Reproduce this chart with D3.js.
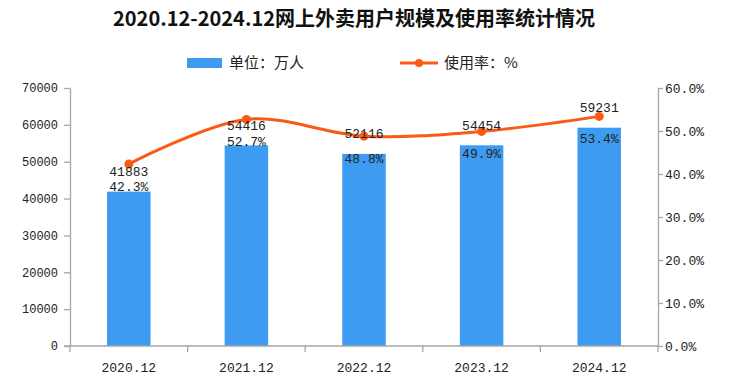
<!DOCTYPE html>
<html><head><meta charset="utf-8">
<script src="https://cdn.jsdelivr.net/npm/d3@7/dist/d3.min.js"></script>
<style>
html,body{margin:0;padding:0;background:#fff;}
svg{display:block;}
</style></head>
<body>
<svg id="c" width="735" height="384"></svg>
<script>
const categories = ["2020.12","2021.12","2022.12","2023.12","2024.12"];
const users = [41883, 54416, 52116, 54454, 59231];
const rates = [42.3, 52.7, 48.8, 49.9, 53.4];
const leftTicks = [0,10000,20000,30000,40000,50000,60000,70000];
const rightTicks = [0,10,20,30,40,50,60];
const title = "2020.12-2024.12网上外卖用户规模及使用率统计情况";
const legendBar = "单位：万人";
const legendLine = "使用率：%";

const W = 735, H = 384;
const m = {left:70, right:77, top:88, bottom:38};
const svg = d3.select("#c");
const monoFont = "'Liberation Mono','DejaVu Sans Mono',monospace";
const cjkFont = "'Noto Sans CJK SC','Noto Sans',sans-serif";
const barColor = "#3d9cf2", lineColor = "#fa5a14", axisColor = "#a6a6a6", textColor = "#222";

const x = d3.scaleBand().domain(categories).range([m.left, W - m.right]).paddingInner(0.63).paddingOuter(0.315);
const xb = d3.scaleBand().domain(categories).range([m.left, W - m.right]);
const yL = d3.scaleLinear().domain([0,70000]).range([H - m.bottom, m.top]);
const yR = d3.scaleLinear().domain([0,60]).range([H - m.bottom, m.top]);

// title
svg.append("text").attr("x", 354).attr("y", 26).attr("text-anchor","middle")
  .attr("font-family", cjkFont).attr("font-size", 20).attr("font-weight","bold")
  .attr("fill", "#111").text(title);

// legend
svg.append("rect").attr("x",187).attr("y",58).attr("width",35).attr("height",10).attr("fill",barColor);
svg.append("text").attr("x",229).attr("y",68).attr("font-family",cjkFont).attr("font-size",15)
  .attr("fill",textColor).text(legendBar);
svg.append("line").attr("x1",400).attr("x2",438).attr("y1",63).attr("y2",63)
  .attr("stroke",lineColor).attr("stroke-width",3);
svg.append("circle").attr("cx",419).attr("cy",63).attr("r",4).attr("fill",lineColor);
svg.append("text").attr("x",444).attr("y",68).attr("font-family",cjkFont).attr("font-size",15)
  .attr("fill",textColor).text(legendLine);

// bars
svg.append("g").selectAll("rect").data(users).join("rect")
  .attr("x",(d,i)=>x(categories[i])).attr("width",x.bandwidth())
  .attr("y",d=>yL(d)).attr("height",d=>yL(0)-yL(d)).attr("fill",barColor);

// axes
const styleAxis = (size) => g => {
  g.selectAll("path,line").attr("stroke",axisColor).attr("stroke-width",1.3);
  g.selectAll("text").attr("font-family",monoFont).attr("font-size",size).attr("fill",textColor);
};
svg.append("g").attr("transform",`translate(${m.left},0)`)
  .call(d3.axisLeft(yL).tickValues(leftTicks).tickSize(6).tickSizeOuter(0).tickPadding(6).tickFormat(d3.format("d")))
  .call(styleAxis(12));
svg.append("g").attr("transform",`translate(${W-m.right},0)`)
  .call(d3.axisRight(yR).tickValues(rightTicks).tickSize(5).tickSizeOuter(0).tickPadding(2).tickFormat(d=>d.toFixed(1)+"%"))
  .call(styleAxis(13));
const xAxis = svg.append("g").attr("transform",`translate(0,${H-m.bottom})`)
  .call(d3.axisBottom(xb).tickSize(0).tickPadding(17))
  .call(styleAxis(13));
xAxis.select(".domain").attr("d",`M${m.left - 6},0H${W-m.right}`);
// category boundary ticks
const bounds = categories.map(c=>xb(c)).concat([xb(categories[categories.length-1]) + xb.bandwidth()]);
xAxis.selectAll("line.bt").data(bounds).join("line").attr("class","bt")
  .attr("x1",d=>d).attr("x2",d=>d).attr("y1",0).attr("y2",6)
  .attr("stroke",axisColor).attr("stroke-width",1.3);

// line
const cx = (i)=> x(categories[i]) + x.bandwidth()/2;
const line = d3.line().x((d,i)=>cx(i)).y(d=>yR(d)).curve(d3.curveCatmullRom.alpha(0.5));
svg.append("path").datum(rates).attr("d",line).attr("fill","none")
  .attr("stroke",lineColor).attr("stroke-width",3);
svg.append("g").selectAll("circle").data(rates).join("circle")
  .attr("cx",(d,i)=>cx(i)).attr("cy",d=>yR(d)).attr("r",4.5).attr("fill",lineColor);

// labels
svg.append("g").selectAll("text").data(users).join("text")
  .attr("x",(d,i)=>cx(i)).attr("y",d=>yL(d)-20).attr("dy","0.35em").attr("text-anchor","middle")
  .attr("font-family",monoFont).attr("font-size",13).attr("fill",textColor).text(d=>d);
svg.append("g").selectAll("text").data(rates).join("text")
  .attr("x",(d,i)=>cx(i)).attr("y",d=>yR(d)+22).attr("dy","0.35em").attr("text-anchor","middle")
  .attr("font-family",monoFont).attr("font-size",13).attr("fill",textColor).text(d=>d.toFixed(1)+"%");
</script>
</body></html>
